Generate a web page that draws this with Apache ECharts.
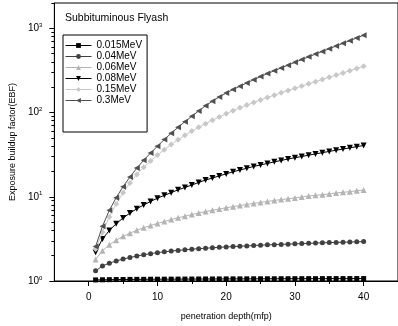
<!DOCTYPE html>
<html>
<head>
<meta charset="utf-8">
<script src="https://cdn.jsdelivr.net/npm/echarts@6/dist/echarts.min.js"></script>
<style>
html, body { margin: 0; padding: 0; background: #fff; }
#chart { width: 398px; height: 326px; }
</style>
</head>
<body>
<div id="chart"></div>
<script>
// penetration depth in mean free paths
const depth = [1,2,3,4,5,6,7,8,9,10,11,12,13,14,15,16,17,18,19,20,
               21,22,23,24,25,26,27,28,29,30,31,32,33,34,35,36,37,38,39,40];

// exposure buildup factors per photon energy
const ebf0015 = [1.03,1.034,1.037,1.04,1.042,1.044,1.046,1.047,1.049,1.05,
                 1.051,1.052,1.053,1.054,1.055,1.056,1.057,1.057,1.058,1.059,
                 1.06,1.06,1.061,1.062,1.062,1.063,1.063,1.064,1.064,1.065,
                 1.065,1.066,1.066,1.067,1.067,1.068,1.068,1.068,1.069,1.069];
const ebf004 = [1.32,1.51,1.63,1.73,1.82,1.90,1.98,2.05,2.11,2.17,
                2.22,2.27,2.31,2.35,2.39,2.42,2.45,2.48,2.51,2.54,
                2.56,2.59,2.61,2.64,2.66,2.69,2.70,2.72,2.74,2.76,
                2.78,2.80,2.82,2.84,2.86,2.87,2.89,2.90,2.92,2.94];
const ebf006 = [1.80,2.29,2.69,3.05,3.39,3.70,4.00,4.29,4.56,4.83,
                5.09,5.36,5.62,5.89,6.15,6.41,6.67,6.92,7.16,7.40,
                7.64,7.87,8.11,8.34,8.57,8.81,9.04,9.27,9.48,9.70,
                9.93,10.2,10.4,10.6,10.8,11.1,11.3,11.5,11.8,12.0];
const ebf008 = [2.19,3.16,3.98,4.79,5.60,6.41,7.21,8.00,8.81,9.62,
                10.4,11.2,12.1,12.9,13.8,14.8,15.8,16.7,17.7,18.7,
                19.8,20.8,21.8,22.9,23.9,24.9,26.0,27.0,28.1,29.1,
                30.1,31.2,32.3,33.4,34.6,35.7,36.9,38.1,39.4,40.6];
const ebf015 = [2.40,3.80,5.75,8.22,11.2,14.6,18.4,22.4,26.6,31.3,
                36.3,41.7,47.5,53.7,60.3,67.0,73.8,81.1,88.7,96.8,
                105.2,113.8,122.7,131.8,141.3,151.0,161.1,171.8,182.8,194.1,
                206.5,219.3,232.8,247.2,262.4,278.6,295.8,314.1,334.2,354.8];
const ebf03 = [2.57,4.47,6.92,9.77,13.2,17.2,21.9,27.2,33.1,39.8,
               47.9,56.9,66.8,78.0,90.2,104.7,120.2,136.5,153.1,170.6,
               187.5,205.6,224.9,245.5,267.3,290.4,314.1,338.8,365.6,394.5,
               425.6,459.2,494.3,532.1,572.8,616.6,663.7,714.5,769.1,827.9];

const seriesNames = ['0.015MeV', '0.04MeV', '0.06MeV', '0.08MeV', '0.15MeV', '0.3MeV'];

// axis ticks
const xMajorTicks = [0, 10, 20, 30, 40];
const xMinorTicks = [5, 15, 25, 35, 45];
const yMajorTicks = [1, 10, 100, 1000];
const yMinorTicks = [2,3,4,5,6,7,8,9,20,30,40,50,60,70,80,90,
                     200,300,400,500,600,700,800,900,2000];

const FONT = '"Liberation Sans", Arial, sans-serif';

const styles = [
  { values: ebf0015, color: '#000000', symbol: 'rect',     size: 5, rotate: 0 },
  { values: ebf004,  color: '#404040', symbol: 'circle',   size: 5, rotate: 0 },
  { values: ebf006,  color: '#b4b4b4', symbol: 'triangle', size: 6, rotate: 0 },
  { values: ebf008,  color: '#000000', symbol: 'triangle', size: 6, rotate: 180 },
  { values: ebf015,  color: '#c8c8c8', symbol: 'diamond',  size: 6, rotate: 0 },
  { values: ebf03,   color: '#505050', symbol: 'triangle', size: 6, rotate: 90 }
];

const series = styles.map((s, i) => ({
  name: seriesNames[i],
  type: 'line',
  data: depth.map((d, k) => [d, s.values[k]]),
  symbol: s.symbol,
  symbolSize: s.size,
  symbolRotate: s.rotate,
  showSymbol: true,
  lineStyle: { color: s.color, width: 1 },
  itemStyle: { color: s.color },
  emphasis: { disabled: true },
  z: 2 + i
}));

const chart = echarts.init(document.getElementById('chart'), null, { renderer: 'canvas' });
chart.setOption({
  animation: false,
  backgroundColor: '#fff',
  title: {
    text: 'Subbituminous Flyash',
    left: 60, top: 8,
    textStyle: { fontFamily: FONT, fontSize: 10.5, fontWeight: 'normal', color: '#000' }
  },
  legend: {
    data: seriesNames,
    orient: 'vertical',
    left: 63, top: 35,
    padding: [5, 5, 26, 2],
    itemGap: 0,
    itemWidth: 26,
    itemHeight: 6,
    lineStyle: { width: 1 },
    borderColor: '#000',
    borderWidth: 1,
    textStyle: { fontFamily: FONT, fontSize: 10, color: '#000', lineHeight: 11 }
  },
  grid: {
    left: 52, right: -3.5, top: 3, bottom: 41,
    show: true, borderColor: '#000', borderWidth: 1,
    containLabel: false
  },
  xAxis: [
    {
      type: 'value', min: -5, max: 45,
      axisLine: { show: true, onZero: false, lineStyle: { color: '#000', width: 1 } },
      axisTick: { show: true, length: 5, customValues: xMajorTicks, lineStyle: { color: '#000' } },
      axisLabel: { customValues: xMajorTicks, margin: 11, fontFamily: FONT, fontSize: 10, color: '#000' },
      splitLine: { show: false },
      name: 'penetration depth(mfp)',
      nameLocation: 'middle', nameGap: 31,
      nameTextStyle: { fontFamily: FONT, fontSize: 9, color: '#000' }
    },
    {
      type: 'value', min: -5, max: 45, position: 'bottom',
      axisLine: { show: false, onZero: false },
      axisTick: { show: true, length: 3, customValues: xMinorTicks, lineStyle: { color: '#000' } },
      axisLabel: { show: false },
      splitLine: { show: false }
    }
  ],
  yAxis: [
    {
      type: 'log', logBase: 10, min: 1, max: 2000, position: 'left',
      axisLine: { show: true, onZero: false, lineStyle: { color: '#000', width: 1 } },
      axisTick: { show: true, length: 5, customValues: yMajorTicks, lineStyle: { color: '#000' } },
      axisLabel: {
        customValues: yMajorTicks, margin: 12,
        formatter: v => '{b|10}{s|' + Math.round(Math.log10(v)) + '}',
        rich: {
          b: { fontFamily: FONT, fontSize: 10, color: '#000' },
          s: { fontFamily: FONT, fontSize: 6, color: '#000', padding: [0, 0, 6, 0] }
        }
      },
      splitLine: { show: false },
      name: 'Exposure buildup factor(EBF)',
      nameLocation: 'middle', nameGap: 28,
      nameTextStyle: { fontFamily: FONT, fontSize: 9, color: '#000' }
    },
    {
      type: 'log', logBase: 10, min: 1, max: 2000, position: 'left',
      axisLine: { show: false, onZero: false },
      axisTick: { show: true, length: 3, customValues: yMinorTicks, lineStyle: { color: '#000' } },
      axisLabel: { show: false },
      splitLine: { show: false }
    }
  ],
  series: series
});
</script>
</body>
</html>
